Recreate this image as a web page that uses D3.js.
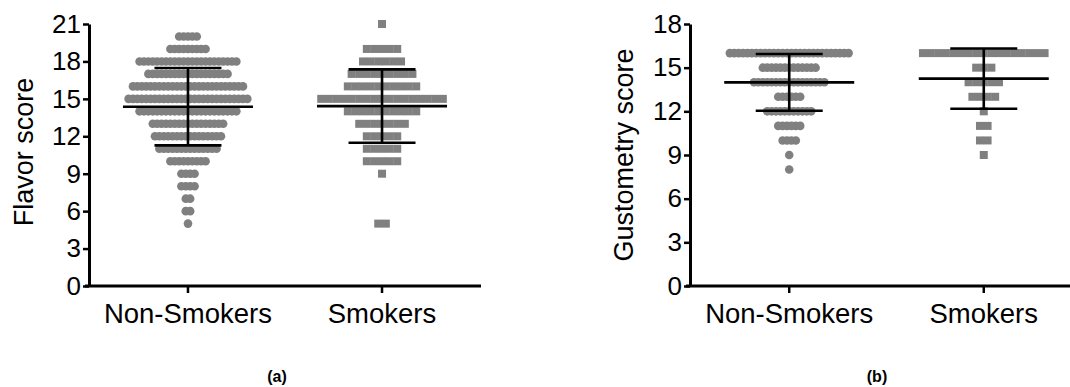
<!DOCTYPE html>
<html>
<head>
<meta charset="utf-8">
<script src="https://cdn.jsdelivr.net/npm/d3@7"></script>
<style>
  body { margin: 0; background: #fff; }
  svg { display: block; font-family: "Liberation Sans", Arial, sans-serif; }
</style>
</head>
<body>
<svg id="chart" width="1070" height="387"></svg>
<script>
// Groups on the x axis
const GROUPS = ["Non-Smokers", "Smokers"];

// Flavor score: number of subjects at each score
const FLAVOR_SCORES = [5, 6, 7, 8, 9, 10, 11, 12, 13, 14, 15, 16, 17, 18, 19, 20, 21];
const flavorNonSmokers = [1, 2, 2, 4, 4, 9, 14, 16, 17, 23, 28, 26, 19, 23, 9, 5, 0];
const flavorSmokers    = [2, 0, 0, 0, 1, 5, 5, 5, 7, 10, 17, 10, 9, 6, 5, 0, 1];
const flavorMean = [14.37, 14.42];
const flavorSd   = [3.1, 2.94];
const FLAVOR_TICKS = [0, 3, 6, 9, 12, 15, 18, 21];

// Gustometry score: number of subjects at each score
const GUSTO_SCORES = [8, 9, 10, 11, 12, 13, 14, 15, 16];
const gustoNonSmokers = [1, 1, 4, 6, 11, 6, 17, 13, 28];
const gustoSmokers    = [0, 1, 2, 2, 1, 4, 5, 3, 17];
const gustoMean = [13.99, 14.25];
const gustoSd   = [1.95, 2.07];
const GUSTO_TICKS = [0, 3, 6, 9, 12, 15, 18];

const DOT = "#808080";
const svg = d3.select("#chart");
svg.append("rect").attr("width", 1070).attr("height", 387).attr("fill", "#fff");

function drawPanel(p) {
  const g = svg.append("g");
  const x = d3.scaleBand().domain(GROUPS).range([p.x0, p.x1])
    .paddingInner(0.5).paddingOuter(0.26);
  const y = d3.scaleLinear().domain([0, d3.max(p.ticks)]).range([286, 24]);
  const cx = (grp) => x(grp) + x.bandwidth() / 2;

  // rows of points, centred on the group
  const rows = [];
  p.scores.forEach((s, i) => {
    rows.push({ grp: GROUPS[0], score: s, n: p.counts[0][i] });
    rows.push({ grp: GROUPS[1], score: s, n: p.counts[1][i] });
  });
  const pts = rows.flatMap((r) => d3.range(r.n).map((k) => ({ ...r, k })));

  const circleStep = 4.4, squareStep = 7.6;
  g.append("g").selectAll("circle")
    .data(pts.filter((d) => d.grp === GROUPS[0]))
    .join("circle")
    .attr("cx", (d) => cx(d.grp) + (d.k - (d.n - 1) / 2) * circleStep)
    .attr("cy", (d) => y(d.score))
    .attr("r", 4.3)
    .attr("fill", DOT);
  g.append("g").selectAll("rect")
    .data(pts.filter((d) => d.grp === GROUPS[1]))
    .join("rect")
    .attr("x", (d) => cx(d.grp) + (d.k - (d.n - 1) / 2) * squareStep - 4)
    .attr("y", (d) => y(d.score) - 4)
    .attr("width", 8)
    .attr("height", 8)
    .attr("fill", DOT);

  // mean with SD
  const stats = GROUPS.map((grp, i) => ({ grp, mean: p.mean[i], sd: p.sd[i] }));
  const eb = g.append("g").attr("stroke", "#000").attr("stroke-width", 2.6);
  eb.selectAll("line.mean").data(stats).join("line").attr("class", "mean")
    .attr("x1", (d) => cx(d.grp) - 65).attr("x2", (d) => cx(d.grp) + 65)
    .attr("y1", (d) => y(d.mean)).attr("y2", (d) => y(d.mean));
  eb.selectAll("line.sd").data(stats).join("line").attr("class", "sd")
    .attr("x1", (d) => cx(d.grp)).attr("x2", (d) => cx(d.grp))
    .attr("y1", (d) => y(d.mean + d.sd)).attr("y2", (d) => y(d.mean - d.sd));
  eb.selectAll("line.cap").data(stats.flatMap((d) => [
      { grp: d.grp, v: d.mean + d.sd }, { grp: d.grp, v: d.mean - d.sd }]))
    .join("line").attr("class", "cap")
    .attr("x1", (d) => cx(d.grp) - 33.5).attr("x2", (d) => cx(d.grp) + 33.5)
    .attr("y1", (d) => y(d.v)).attr("y2", (d) => y(d.v));

  // axes
  const ya = g.append("g")
    .attr("transform", `translate(${p.x0},0)`)
    .call(d3.axisLeft(y).tickValues(p.ticks).tickSize(6).tickPadding(2).tickSizeOuter(0));
  ya.select(".domain").attr("stroke-width", 3);
  ya.selectAll(".tick line").attr("stroke-width", 2.5);
  ya.selectAll(".tick text").attr("font-size", 26).attr("fill", "#000").attr("font-family", null);

  const xa = g.append("g")
    .attr("transform", `translate(0,${y(0)})`)
    .call(d3.axisBottom(x).tickSize(7).tickPadding(10).tickSizeOuter(0));
  xa.select(".domain").attr("stroke-width", 3).attr("d", `M${p.x0 - 4},0H${p.x1}`);
  xa.selectAll(".tick line").attr("stroke-width", 2.5);
  xa.selectAll(".tick text").attr("font-size", 27.5).attr("fill", "#000").attr("font-family", null);

  g.append("text")
    .attr("transform", `translate(${p.titleX},${p.titleY}) rotate(-90)`)
    .attr("text-anchor", "middle")
    .attr("font-size", 27)
    .text(p.title);

  g.append("text")
    .attr("x", p.labelX).attr("y", 382)
    .attr("text-anchor", "middle")
    .attr("font-size", 16)
    .attr("font-weight", "bold")
    .text(p.label);
}

drawPanel({
  x0: 89, x1: 481, scores: FLAVOR_SCORES, counts: [flavorNonSmokers, flavorSmokers],
  mean: flavorMean, sd: flavorSd, ticks: FLAVOR_TICKS,
  title: "Flavor score", titleX: 33, titleY: 152, label: "(a)", labelX: 277,
});
drawPanel({
  x0: 690, x1: 1083, scores: GUSTO_SCORES, counts: [gustoNonSmokers, gustoSmokers],
  mean: gustoMean, sd: gustoSd, ticks: GUSTO_TICKS,
  title: "Gustometry score", titleX: 633, titleY: 155, label: "(b)", labelX: 877,
});
</script>
</body>
</html>
